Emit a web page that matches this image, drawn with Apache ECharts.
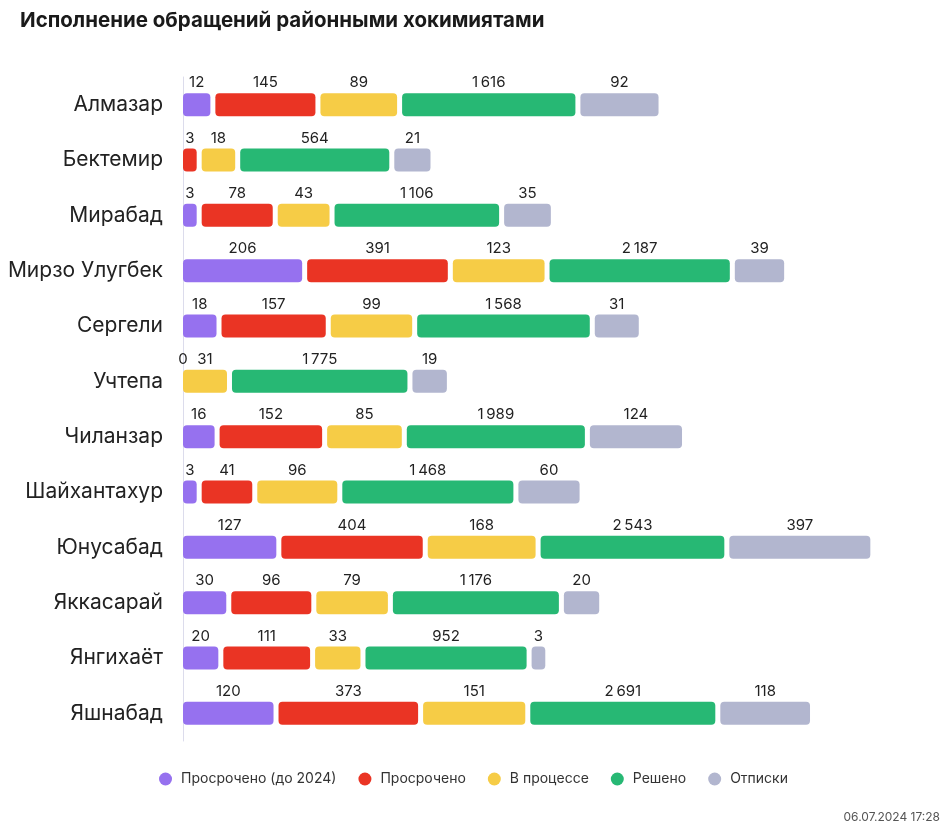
<!DOCTYPE html>
<html><head><meta charset="utf-8">
<script src="https://cdn.jsdelivr.net/npm/echarts@6/dist/echarts.min.js"></script>
<style>html,body{margin:0;padding:0;background:#fff}#c{width:947px;height:835px}</style>
</head><body><div id="c"></div>
<script>
const districts = ['Алмазар','Бектемир','Мирабад','Мирзо Улугбек','Сергели','Учтепа','Чиланзар','Шайхантахур','Юнусабад','Яккасарай','Янгихаёт','Яшнабад'];
const overdueOld = [12, null, 3, 206, 18, null, 16, 3, 127, 30, 20, 120];
const overdue    = [145, 3, 78, 391, 157, 0, 152, 41, 404, 96, 111, 373];
const inProgress = [89, 18, 43, 123, 99, 31, 85, 96, 168, 79, 33, 151];
const resolved   = [1616, 564, 1106, 2187, 1568, 1775, 1989, 1468, 2543, 1176, 952, 2691];
const rejected   = [92, 21, 35, 39, 31, 19, 124, 60, 397, 20, 3, 118];
const seriesNames = ['Просрочено (до 2024)','Просрочено','В процессе','Решено','Отписки'];
const colors = ['#9671ef','#ea3424','#f6cc46','#27b874','#b2b6cf'];

// display scale of the original: sqrt/symlog-like for small values, compressed log above a knee
function barLen(v){
  if (v == null) return null;
  if (v <= 0) return 0;
  const m = 10, k = 73.3, c = 60, knee = 250;
  const lo = x => Math.max(m + k*Math.log(1 + x/c), 7.9*Math.sqrt(x));
  if (v <= knee) return lo(v);
  return lo(knee) + 23*Math.log(v/knee);
}
function fmt(v){ return String(v).replace(/\B(?=(\d{3})+(?!\d))/g, '\u2009'); }

const groups = [overdueOld, overdue, inProgress, resolved, rejected];
const GAP = 5;
const series = [];
groups.forEach((arr, gi) => {
  series.push({
    name: seriesNames[gi], type: 'bar', stack: 'a', barWidth: 23,
    itemStyle: { color: colors[gi], borderRadius: 4 },
    label: { show: true, position: 'top', distance: 3, fontSize: 15, color: '#222', fontFamily: 'Inter',
      formatter: p => (arr[p.dataIndex] == null ? '' : fmt(arr[p.dataIndex])) },
    data: arr.map(v => v == null ? null : barLen(v))
  });
  if (gi < groups.length - 1) {
    series.push({
      name: 'gap' + gi, type: 'bar', stack: 'a', barWidth: 23, silent: true,
      itemStyle: { color: 'rgba(0,0,0,0)' }, label: { show: false },
      data: arr.map(v => (v == null || v === 0) ? 0 : GAP)
    });
  }
});

const chart = echarts.init(document.getElementById('c'), null, { renderer: 'canvas' });
chart.setOption({
  animation: false,
  textStyle: { fontFamily: 'Inter' },
  title: { text: 'Исполнение обращений районными хокимиятами', left: 15, top: 5,
    textStyle: { fontSize: 20.5, fontWeight: 'bold', color: '#1a1a1a', fontFamily: 'Inter' } },
  grid: { left: 183, right: 4, top: 77, bottom: 94, containLabel: false },
  xAxis: { type: 'value', min: 0, max: 760, show: false },
  yAxis: { type: 'category', inverse: true, data: districts, offset: 3,
    axisLine: { show: true, lineStyle: { color: '#dcdcec', width: 1 } },
    axisTick: { show: false },
    axisLabel: { fontSize: 21, color: '#222', margin: 17, fontFamily: 'Inter' } },
  legend: { data: seriesNames, top: 767, left: 'center', icon: 'circle', itemWidth: 21, itemHeight: 13, itemGap: 22,
    textStyle: { fontSize: 14, color: '#333', fontFamily: 'Inter' } },
  graphic: [{ type: 'text', right: 7, top: 811, style: { text: '06.07.2024 17:28', fontSize: 12, fill: '#555', fontFamily: 'Inter' } }],
  series: series
});
</script></body></html>
